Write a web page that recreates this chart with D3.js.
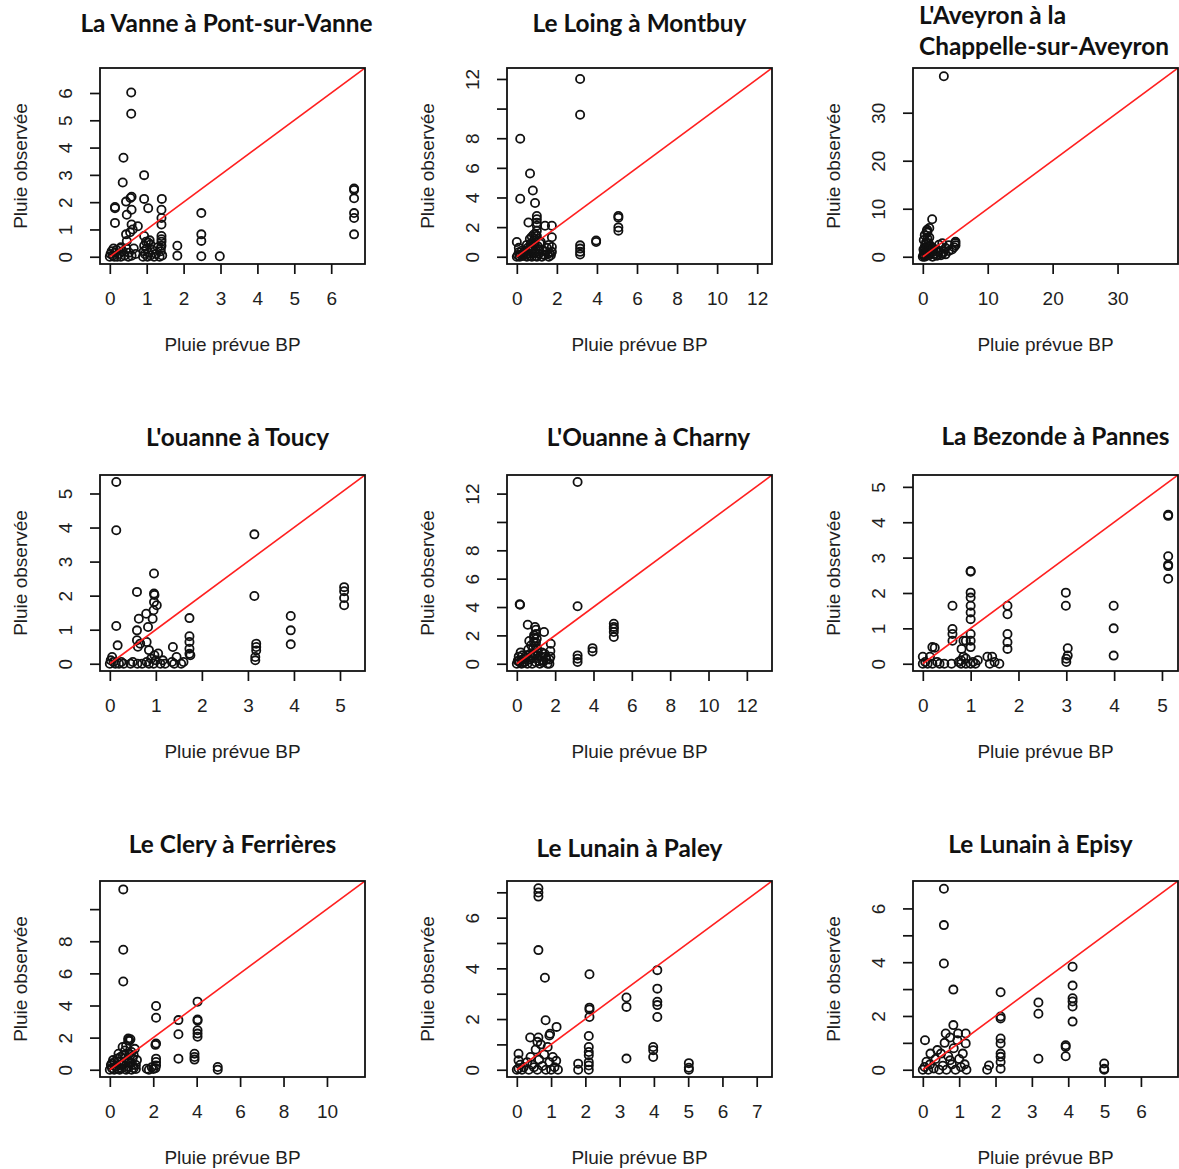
<!DOCTYPE html>
<html>
<head>
<meta charset="utf-8">
<script src="https://cdn.jsdelivr.net/npm/d3@7"></script>
<style>
    body { margin: 0; background: #fff; }
    svg { display: block; }
    .lab { font-family: "Liberation Sans", Arial, sans-serif; fill: #1e1e1e; }
    .ttl { font-family: Lato, "Open Sans", sans-serif; font-weight: bold; fill: #111; }
</style>
</head>
<body>
<div id="chart"></div>
<script>
"use strict";

// station titles (one or two lines)
var titles = [
    ["La Vanne à Pont-sur-Vanne"],
    ["Le Loing à Montbuy"],
    ["L'Aveyron à la", "Chappelle-sur-Aveyron"],
    ["L'ouanne à Toucy"],
    ["L'Ouanne à Charny"],
    ["La Bezonde à Pannes"],
    ["Le Clery à Ferrières"],
    ["Le Lunain à Paley"],
    ["Le Lunain à Episy"]
];

// common upper limit of both axes (xlim = ylim)
var limits = [6.65, 12.25, 37.8, 5.33, 12.8, 5.13, 11.3, 7.16, 6.75];

var xTicks = [
    [0, 1, 2, 3, 4, 5, 6],
    [0, 2, 4, 6, 8, 10, 12],
    [0, 10, 20, 30],
    [0, 1, 2, 3, 4, 5],
    [0, 2, 4, 6, 8, 10, 12],
    [0, 1, 2, 3, 4, 5],
    [0, 2, 4, 6, 8, 10],
    [0, 1, 2, 3, 4, 5, 6, 7],
    [0, 1, 2, 3, 4, 5, 6]
];

var yTicks = [
    [0, 1, 2, 3, 4, 5, 6],
    [0, 2, 4, 6, 8, 10, 12],
    [0, 10, 20, 30],
    [0, 1, 2, 3, 4, 5],
    [0, 2, 4, 6, 8, 10, 12],
    [0, 1, 2, 3, 4, 5],
    [0, 2, 4, 6, 8, 10],
    [0, 1, 2, 3, 4, 5, 6, 7],
    [0, 1, 2, 3, 4, 5, 6]
];

// R drops labels that would overlap
var yTickLabels = [
    ["0", "1", "2", "3", "4", "5", "6"],
    ["0", "2", "4", "6", "8", "", "12"],
    ["0", "10", "20", "30"],
    ["0", "1", "2", "3", "4", "5"],
    ["0", "2", "4", "6", "8", "", "12"],
    ["0", "1", "2", "3", "4", "5"],
    ["0", "2", "4", "6", "8", ""],
    ["0", "", "2", "", "4", "", "6", ""],
    ["0", "", "2", "", "4", "", "6"]
];

// [pluie prevue BP, pluie observee]
var vannePts = [
    [0.58,6.02],[0.58,5.24],[0.37,3.63],[0.35,2.72],[0.93,2.99],[0.93,2.12],[1.41,2.12],[0.59,2.2],[0.56,2.15],
    [0.14,1.82],[0.14,1.78],[0.14,1.24],[0.44,2.02],[0.46,1.54],[0.59,1.72],[0.59,1.18],[0.76,1.12],[1.04,1.78],
    [1.4,1.72],[1.4,1.42],[1.4,1.18],[0.44,0.82],[0.46,0.58],[0.93,0.76],[1.04,0.52],[1.4,0.76],[1.4,0.64],
    [1.4,0.4],[0.93,0.4],[0,0],[0.02,0.1],[0.05,0.2],[0.08,0.05],[0.1,0.3],[0.12,0],[0.15,0.15],[0.18,0.25],
    [0.2,0],[0.25,0.1],[0.28,0.3],[0.3,0],[0.35,0.2],[0.4,0.05],[0.45,0.3],[0.5,0],[0.52,0.15],[0.59,0.04],
    [0.65,0.3],[0.7,0.1],[0.9,0],[0.92,0.2],[0.95,0.1],[1.0,0.3],[1.02,0],[1.05,0.15],[1.08,0.6],[1.1,0.05],
    [1.15,0.25],[1.2,0],[1.25,0.1],[1.3,0.35],[1.35,0],[1.38,0.2],[1.42,0.05],[1.4,0.55],[1.38,0.3],
    [0.55,0.9],[0.62,1.0],[0.98,0.55],[1.1,0.45],[0.3,0.35],
    [1.83,0.4],[1.83,0.04],[2.48,1.6],[2.48,0.82],[2.48,0.58],[2.48,0.02],[2.98,0.02],
    [6.62,2.5],[6.62,2.45],[6.62,2.14],[6.62,1.6],[6.62,1.42],[6.62,0.82]
];

var loingPts = [
    [3.16,12.0],[3.16,9.58],[0.17,7.97],[0.17,3.92],[0.66,5.62],[0.8,4.47],[0.91,3.63],[0.0,1.0],[0.58,2.31],
    [1.0,2.75],[1.0,2.53],[1.0,2.3],[1.0,2.09],[1.0,1.76],[0.95,1.5],[0.9,1.2],[1.41,2.09],[1.75,2.09],
    [1.75,1.32],[1.75,0.66],[1.75,0.33],[3.16,0.77],[3.16,0.55],[3.16,0.33],[3.16,0.15],[3.96,0.99],[3.96,1.1],
    [5.07,2.75],[5.07,2.64],[5.07,1.98],[5.07,1.76],[0,0],[0.05,0.1],[0.1,0.3],[0.15,0],[0.2,0.15],[0.3,0.05],
    [0.4,0.4],[0.5,0],[0.55,0.6],[0.6,0.2],[0.7,0.9],[0.75,0],[0.8,0.5],[0.85,1.1],[0.9,0.3],[1.0,0],
    [1.05,0.7],[1.1,0.2],[1.2,1.0],[1.25,0],[1.3,0.4],[1.4,0.1],[1.5,0.6],[1.6,0],[1.65,0.25],[0.65,1.2],[0.5,0.8],
    [0.1,0.6],[0.25,0.4],[0.35,0.2],[0.45,0.15],[0.6,0.5],[0.65,0.05],[0.7,0.6],[0.8,0.2],[0.9,0.8],[0.95,0.05],
    [1.1,0.5],[1.15,0.9],[1.3,0.15],[1.45,0.35],[1.55,0.2],[1.7,0.1],[0.85,1.5],[0.75,1.35],[1.0,1.4],[1.6,0.8]
];

var aveyronPts = [
    [3.24,37.6],[1.44,7.8],[0.67,5.6],[0.7,5.0],[0.15,3.5],[0.5,3.0],[1.0,4.0],[0.3,2.0],[5.04,3.1],[5.04,2.4],
    [4.8,2.0],[3.24,1.0],[3.5,0.5],[4.0,1.2],[2.5,2.5],[3.0,2.8],[2.0,1.5],[1.5,1.0],[0,0],[0.2,0.5],[0.4,1.0],
    [0.6,0.2],[0.8,1.5],[1.0,0.3],[1.2,2.2],[1.5,0.0],[1.8,0.6],[2.2,0.2],[0.1,1.5],[0.9,2.8],[0.3,0.0],[2.8,0.3],
    [0.1,0.3],[0.2,1.2],[0.4,2.5],[0.5,0.6],[0.6,1.8],[0.7,3.8],[0.8,0.5],[0.9,1.0],[1.1,1.6],[1.3,0.8],
    [1.4,2.0],[1.6,1.7],[2.0,0.3],[2.5,1.0],[3.0,0.6],[3.5,1.8],[4.0,2.4],[4.5,1.5],[5.0,2.8],[0.3,4.5],[0.6,5.3],[1.0,6.0]
];

var toucyPts = [
    [0.14,5.34],[0.14,3.92],[0.14,1.11],[0.17,0.54],[0.59,2.11],[0.63,1.32],[0.59,0.98],[0.59,0.69],[0.66,0.59],
    [0.61,0.5],[0.79,1.47],[0.83,1.08],[0.96,2.65],[0.96,2.06],[0.97,2.02],[0.96,1.81],[1.02,1.72],[0.95,1.57],
    [0.93,1.32],[0.8,0.64],[0.85,0.4],[0.97,0.25],[1.37,0.49],[1.73,1.34],[1.73,0.81],[1.73,0.64],[1.73,0.44],
    [1.73,0.29],[1.75,0.25],[3.14,3.8],[3.14,1.99],[3.18,0.59],[3.18,0.49],[3.18,0.39],[3.16,0.2],[3.16,0.1],
    [3.93,1.4],[3.93,0.98],[3.93,0.57],[5.09,2.25],[5.09,2.13],[5.09,1.93],[5.09,1.72],
    [0,0],[0.02,0.1],[0.05,0.2],[0.08,0.05],[0.12,0],[0.2,0],[0.25,0.05],[0.3,0],[0.45,0],[0.5,0.05],[0.6,0],
    [0.7,0],[0.8,0.05],[0.85,0],[0.9,0.15],[0.95,0],[1.0,0.1],[1.05,0.3],[1.1,0],[1.15,0.1],[1.2,0],
    [1.35,0.05],[1.4,0],[1.45,0.2],[1.55,0],[1.6,0.05]
];

var charnyPts = [
    [3.17,12.82],[0.17,4.16],[0.15,4.2],[3.17,4.05],[0.57,2.75],[0.95,2.59],[1.0,2.4],[1.42,2.24],[1.04,1.76],
    [0.9,1.5],[1.77,1.41],[3.17,0.59],[3.17,0.35],[3.17,0.12],[3.95,1.1],[3.95,0.87],[5.06,2.82],[5.06,2.6],
    [5.06,2.47],[5.06,2.24],[5.06,1.88],[0,0],[0.05,0.2],[0.1,0.5],[0.15,0.1],[0.2,0.8],[0.25,0],[0.3,0.3],
    [0.4,0.1],[0.5,0.6],[0.55,0],[0.6,1.0],[0.7,0.3],[0.75,1.3],[0.8,0],[0.85,0.7],[0.9,2.0],[1.0,0.1],
    [1.05,1.1],[1.1,0.4],[1.2,0],[1.3,0.8],[1.4,0.2],[1.5,0.5],[1.6,0],[1.7,0.3],[1.75,0.9],[0.65,1.6],
    [0.1,0.2],[0.3,0.6],[0.35,0.1],[0.45,0.4],[0.6,0.3],[0.7,0.7],[0.8,0.4],[0.85,1.1],[0.95,0.6],[1.0,1.5],
    [1.1,0.8],[1.15,0.2],[1.25,0.5],[1.35,0.1],[1.45,0.7],[1.55,0.3],[1.7,0],[1.75,0.5],[0.9,1.8],[1.0,2.1]
];

var bezondePts = [
    [5.13,4.21],[5.13,4.18],[5.13,3.04],[5.13,2.8],[5.13,2.76],[5.13,2.4],[1.0,2.62],[1.0,2.6],[1.0,2.01],
    [1.0,1.87],[1.0,1.64],[1.0,1.45],[1.0,1.26],[1.0,0.84],[1.0,0.65],[1.0,0.47],[0.62,1.64],[0.62,0.98],
    [0.62,0.84],[0.62,0.65],[0.85,0.65],[0.81,0.42],[1.77,1.64],[1.77,1.4],[1.77,0.84],[1.77,0.61],[1.77,0.42],
    [2.99,2.01],[2.99,1.64],[3.03,0.44],[3.03,0.23],[3.0,0.14],[3.0,0.05],[3.99,1.64],[3.99,1.0],[3.99,0.23],
    [0,0],[0,0.2],[0.05,0.05],[0.1,0],[0.15,0.2],[0.2,0.47],[0.25,0.45],[0.2,0],[0.3,0.05],[0.35,0],[0.45,0],
    [0.6,0],[0.75,0.05],[0.8,0],[0.85,0.2],[0.9,0],[1.0,0],[1.05,0.05],[1.1,0],[1.15,0.1],[1.35,0.2],
    [1.45,0.2],[1.4,0],[1.5,0.05],[1.6,0],[0.8,0.1],[0.9,0.65],[0.9,0.15]
];

var cleryPts = [
    [0.62,11.23],[0.62,7.47],[0.62,5.49],[2.13,3.97],[2.13,3.24],[2.13,1.63],[2.1,1.55],[2.13,0.69],[2.13,0.48],
    [2.13,0.27],[2.1,0.1],[3.16,3.09],[3.16,2.21],[3.16,0.69],[4.04,4.24],[4.04,3.13],[4.04,3.05],[4.04,2.46],
    [4.04,2.25],[4.04,2.05],[3.9,1.0],[3.9,0.79],[3.9,0.63],[4.97,0.17],[4.97,0.0],[0.85,1.84],[0.85,1.94],
    [0.59,1.42],[0.4,1.0],[0.23,0.48],[1.7,0.06],[1.93,0.15],[1.8,0],[2.0,0.05],[0,0],[0.05,0.3],[0.1,0.1],
    [0.15,0.6],[0.2,0],[0.3,0.2],[0.4,0.5],[0.45,0],[0.5,0.8],[0.55,0.1],[0.6,0.3],[0.7,1.2],[0.75,0],
    [0.8,0.6],[0.85,0.2],[0.9,1.0],[0.95,0.4],[1.0,0],[1.05,0.7],[1.1,0.1],[1.15,1.3],[1.2,0.3],[0.7,0.9],[0.35,0.05],
    [0.1,0.4],[0.25,0.2],[0.35,0.7],[0.5,0.3],[0.6,0.9],[0.65,0.5],[0.75,1.5],[0.8,0.1],[0.9,0.5],[1.0,1.1],
    [1.05,0.3],[1.1,0.9],[1.2,0.05],[1.25,0.6],[0.95,1.9],[0.9,1.8]
];

var paleyPts = [
    [0.63,7.16],[0.63,6.99],[0.63,6.83],[0.63,4.72],[0.82,3.63],[0.84,1.95],[1.16,1.69],[0.39,1.27],[0.63,1.27],
    [0.97,1.42],[0.95,1.35],[0.05,0.63],[0.05,0.37],[2.12,3.77],[2.12,2.45],[2.12,2.38],[2.12,2.08],[2.1,1.33],
    [2.1,0.9],[2.1,0.7],[2.1,0.57],[2.1,0.3],[2.1,0.17],[2.1,0],[1.79,0.24],[1.79,0],[3.2,2.85],[3.2,2.48],
    [3.2,0.44],[4.1,3.93],[4.1,3.2],[4.1,2.68],[4.1,2.55],[4.1,2.08],[3.98,0.9],[3.98,0.77],[3.98,0.5],
    [5.02,0.26],[5.02,0.08],[5.02,0],[0,0],[0.05,0.05],[0.1,0.2],[0.15,0],[0.2,0.1],[0.3,0.3],[0.35,0],
    [0.4,0.5],[0.5,0.1],[0.55,0.8],[0.6,0],[0.65,0.4],[0.7,1.0],[0.75,0.15],[0.8,0.6],[0.85,0],[0.9,0.9],
    [0.95,0.3],[1.0,0],[1.05,0.5],[1.1,0.1],[1.15,0.35],[1.2,0],[0.6,1.1],[0.45,0.2]
];

var episyPts = [
    [0.58,6.73],[0.58,5.38],[0.58,3.95],[0.84,2.98],[0.84,1.66],[0.63,1.35],[0.97,1.35],[1.18,1.35],[1.18,0.98],
    [0.06,1.1],[0.4,0.73],[0.21,0.6],[2.14,2.88],[2.14,1.98],[2.14,1.91],[2.14,1.16],[2.14,0.98],[2.14,0.6],
    [2.14,0.48],[2.14,0.29],[2.14,0.04],[1.82,0.16],[1.77,0],[3.18,2.5],[3.18,2.08],[3.18,0.41],[4.12,3.83],
    [4.12,3.13],[4.12,2.66],[4.12,2.54],[4.12,2.35],[4.12,1.79],[3.93,0.91],[3.93,0.85],[3.93,0.5],[4.99,0.23],
    [4.99,0.04],[4.99,0],[0,0],[0.05,0.1],[0.1,0.3],[0.15,0],[0.2,0.2],[0.3,0.05],[0.35,0.4],[0.45,0],
    [0.5,0.6],[0.55,0.15],[0.6,1.0],[0.65,0],[0.7,0.5],[0.75,1.2],[0.8,0.2],[0.85,0.8],[0.9,0],[0.95,1.1],
    [1.0,0.4],[1.05,0.1],[1.1,0.6],[1.15,0.2],[1.2,0],[0.75,0.35]
];

var panelPts = [vannePts, loingPts, aveyronPts, toucyPts, charnyPts, bezondePts, cleryPts, paleyPts, episyPts];

// layout
var specs = {
    left: [100, 507, 913],
    top: [68, 475, 881],
    w: 265,
    h: 196,
    font: 19,
    titleFont: 24.4
};
// title nudges: [dx from box centre, gap above box]
var titlePos = [[-6, 36], [0, 36], [0, 0], [5, 29], [9, 29], [10, 30], [0, 28], [-10, 24], [-5, 28]];

var svg = d3.select("#chart").append("svg")
    .attr("width", 1179)
    .attr("height", 1169);

panelPts.forEach(function(pts, i) {
    var x0 = specs.left[i % 3];
    var y0 = specs.top[Math.floor(i / 3)];
    var m = limits[i];
    var dom = [-0.04 * m, 1.04 * m];

    var x = d3.scaleLinear().domain(dom).range([x0, x0 + specs.w]);
    var y = d3.scaleLinear().domain(dom).range([y0 + specs.h, y0]);

    var g = svg.append("g");

    g.append("clipPath").attr("id", "clip" + i)
        .append("rect")
        .attr("x", x0).attr("y", y0)
        .attr("width", specs.w).attr("height", specs.h);

    // points
    g.selectAll("circle")
        .data(pts)
        .enter()
        .append("circle")
        .attr("cx", function(d) { return x(d[0]); })
        .attr("cy", function(d) { return y(d[1]); })
        .attr("r", 4.1)
        .attr("fill", "none")
        .attr("stroke", "#111")
        .attr("stroke-width", 1.8);

    // 1:1 line
    g.append("line")
        .attr("clip-path", "url(#clip" + i + ")")
        .attr("x1", x(0)).attr("y1", y(0))
        .attr("x2", x(dom[1])).attr("y2", y(dom[1]))
        .attr("stroke", "#ff2020")
        .attr("stroke-width", 1.6);

    // box
    g.append("rect")
        .attr("x", x0).attr("y", y0)
        .attr("width", specs.w).attr("height", specs.h)
        .attr("fill", "none")
        .attr("stroke", "#111")
        .attr("stroke-width", 1.8);

    // x axis
    var xa = g.append("g")
        .attr("transform", "translate(0," + (y0 + specs.h) + ")")
        .call(d3.axisBottom(x).tickValues(xTicks[i]).tickSize(10).tickFormat(d3.format("d")));
    xa.select(".domain").remove();
    xa.selectAll("line").attr("stroke", "#111").attr("stroke-width", 1.7);
    xa.selectAll("text")
        .attr("class", "lab")
        .attr("y", 34)
        .attr("dy", "0.35em")
        .attr("fill", null)
        .style("font-size", specs.font + "px");

    // y axis, labels parallel to axis
    var ya = g.append("g")
        .attr("transform", "translate(" + x0 + ",0)")
        .call(d3.axisLeft(y).tickValues(yTicks[i]).tickSize(10)
            .tickFormat(function(d, k) { return yTickLabels[i][k]; }));
    ya.select(".domain").remove();
    ya.selectAll("line").attr("stroke", "#111").attr("stroke-width", 1.7);
    ya.selectAll("text")
        .attr("class", "lab")
        .attr("x", 0)
        .attr("dy", "0.35em")
        .attr("fill", null)
        .attr("text-anchor", "middle")
        .attr("transform", "translate(-35,0) rotate(-90)")
        .style("font-size", specs.font + "px");
    ya.attr("font-family", null).attr("font-size", null);
    xa.attr("font-family", null).attr("font-size", null);

    // axis titles
    g.append("text")
        .attr("class", "lab")
        .attr("x", x0 + specs.w / 2)
        .attr("y", y0 + specs.h + 80)
        .attr("dy", "0.35em")
        .attr("text-anchor", "middle")
        .style("font-size", specs.font + "px")
        .text("Pluie prévue BP");

    g.append("text")
        .attr("class", "lab")
        .attr("transform", "translate(" + (x0 - 80) + "," + (y0 + specs.h / 2) + ") rotate(-90)")
        .attr("dy", "0.35em")
        .attr("text-anchor", "middle")
        .style("font-size", specs.font + "px")
        .text("Pluie observée");

    // panel title
    var t = titles[i];
    if (t.length === 1) {
        g.append("text")
            .attr("class", "ttl")
            .attr("x", x0 + specs.w / 2 + titlePos[i][0])
            .attr("y", y0 - titlePos[i][1])
            .attr("text-anchor", "middle")
            .style("font-size", specs.titleFont + "px")
            .text(t[0]);
    } else {
        // two-line title, left aligned
        g.selectAll("text.ttl2")
            .data(t)
            .enter()
            .append("text")
            .attr("class", "ttl")
            .attr("x", x0 + 6)
            .attr("y", function(d, k) { return 24 + k * 31; })
            .style("font-size", specs.titleFont + "px")
            .text(function(d) { return d; });
    }
});
</script>
</body>
</html>
